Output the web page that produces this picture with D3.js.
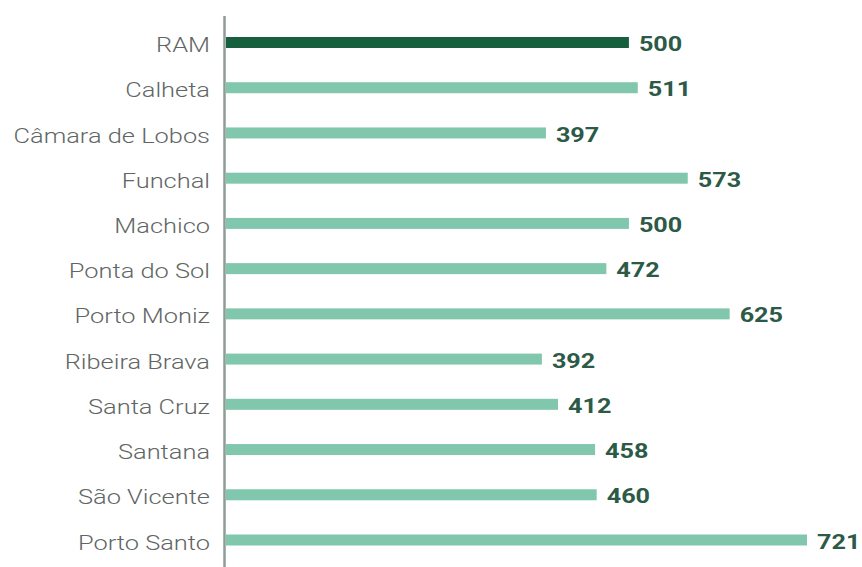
<!DOCTYPE html>
<html>
<head>
<meta charset="utf-8">
<script src="https://cdn.jsdelivr.net/npm/d3@7"></script>
<style>
  html, body { margin: 0; padding: 0; background: #ffffff; }
  svg { display: block; }
</style>
</head>
<body>
<svg id="chart" width="862" height="567"></svg>
<script>
// Municipalities of the Autonomous Region of Madeira, with the regional total first
const categories = [
  "RAM", "Calheta", "Câmara de Lobos", "Funchal", "Machico", "Ponta do Sol",
  "Porto Moniz", "Ribeira Brava", "Santa Cruz", "Santana", "São Vicente", "Porto Santo"
];
const values = [500, 511, 397, 573, 500, 472, 625, 392, 412, 458, 460, 721];
const highlight = ["RAM"];

const svg = d3.select("#chart");

const x0 = 226;
const x = d3.scaleLinear().domain([0, 721]).range([x0, 807]);
const y = d3.scalePoint().domain(categories).range([42.5, 540]);
const barH = 11;

// bars
svg.append("g")
  .selectAll("rect")
  .data(categories)
  .join("rect")
  .attr("x", x(0))
  .attr("y", d => y(d) - barH / 2)
  .attr("width", (d, i) => x(values[i]) - x(0))
  .attr("height", barH)
  .attr("fill", d => highlight.includes(d) ? "#17603f" : "#80c7ae");

// vertical axis line
svg.append("line")
  .attr("x1", 224.5).attr("x2", 224.5)
  .attr("y1", 16).attr("y2", 567)
  .attr("stroke", "#8e9b96")
  .attr("stroke-width", 2.5);

// category labels (wide-set type)
svg.append("g")
  .selectAll("text")
  .data(categories)
  .join("text")
  .attr("transform", d => `translate(210,${y(d)}) scale(1.27,1)`)
  .attr("dy", "0.48em")
  .attr("text-anchor", "end")
  .attr("font-family", "Roboto, sans-serif")
  .attr("font-weight", 300)
  .attr("font-size", 20)
  .attr("fill", "#5f6664")
  .text(d => d);

// value labels
svg.append("g")
  .selectAll("text")
  .data(categories)
  .join("text")
  .attr("transform", (d, i) => `translate(${x(values[i]) + 10},${y(d)}) scale(1.2,1)`)
  .attr("dy", "0.41em")
  .attr("font-family", "Roboto, sans-serif")
  .attr("font-weight", 700)
  .attr("font-size", 21)
  .attr("fill", "#2c5a47")
  .text((d, i) => values[i]);
</script>
</body>
</html>
